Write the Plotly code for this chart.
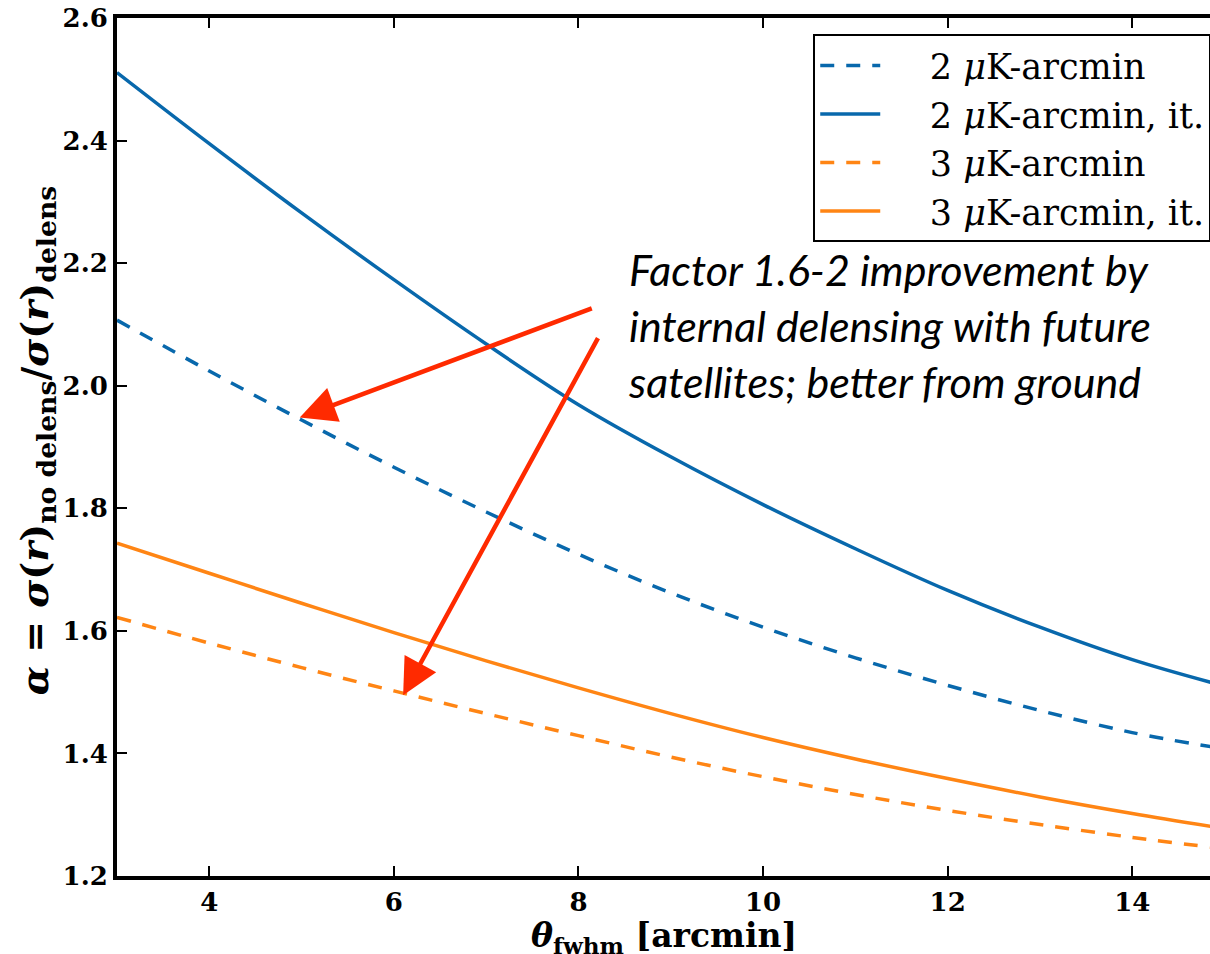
import plotly.graph_objects as go

theta = [3, 4, 5, 6, 7, 8, 9, 10, 11, 12, 13, 14, 14.85]
alpha_2uk = [2.107, 2.024, 1.944, 1.867, 1.794, 1.725, 1.662, 1.606, 1.556, 1.511, 1.470, 1.434, 1.411]
alpha_2uk_it = [2.511, 2.395, 2.282, 2.173, 2.068, 1.969, 1.884, 1.806, 1.734, 1.666, 1.606, 1.553, 1.516]
alpha_3uk = [1.622, 1.580, 1.540, 1.502, 1.465, 1.429, 1.394, 1.362, 1.333, 1.307, 1.284, 1.263, 1.247]
alpha_3uk_it = [1.743, 1.694, 1.645, 1.597, 1.551, 1.507, 1.465, 1.426, 1.391, 1.359, 1.329, 1.302, 1.281]

series_names = ["2 <i>μ</i>K-arcmin", "2 <i>μ</i>K-arcmin, it.", "3 <i>μ</i>K-arcmin", "3 <i>μ</i>K-arcmin, it."]
x_ticks = [4, 6, 8, 10, 12, 14]
y_ticks = [1.2, 1.4, 1.6, 1.8, 2.0, 2.2, 2.4, 2.6]

BLUE = "#0868ac"
ORANGE = "#ff8514"
RED = "#ff2a00"
PAD = "\u00a0\u00a0\u00a0\u00a0"

fig = go.Figure()
series = [
    (alpha_2uk, BLUE, "14px,12px"),
    (alpha_2uk_it, BLUE, "solid"),
    (alpha_3uk, ORANGE, "14px,12px"),
    (alpha_3uk_it, ORANGE, "solid"),
]
for (vals, col, dash), name in zip(series, series_names):
    fig.add_trace(go.Scatter(x=theta, y=vals, mode="lines", name=PAD + name,
                             line=dict(color=col, width=3.5, dash=dash, shape="spline")))

tick_font = dict(family="DejaVu Serif", size=26, color="black", weight="bold")

fig.update_layout(
    width=1210, height=954,
    margin=dict(l=117, r=0, t=18, b=78, autoexpand=False),
    plot_bgcolor="white", paper_bgcolor="white",
    showlegend=True,
    legend=dict(x=0.637, y=0.981, xanchor="left", yanchor="top",
                bgcolor="white", bordercolor="black", borderwidth=2,
                font=dict(family="DejaVu Serif", size=35, color="black"),
                itemwidth=60, tracegroupgap=0),
    xaxis=dict(range=[3, 14.842], tickvals=x_ticks, ticktext=[str(v) for v in x_ticks],
               showgrid=False, zeroline=False, showline=True, linecolor="black", linewidth=4,
               mirror="ticks", ticks="inside", ticklen=10, tickwidth=1.5, tickcolor="black",
               tickfont=tick_font, automargin=False),
    yaxis=dict(range=[1.2, 2.6], tickvals=y_ticks, ticktext=[f"{v:.1f}" for v in y_ticks],
               showgrid=False, zeroline=False, showline=True, linecolor="black", linewidth=4,
               ticks="inside", ticklen=10, tickwidth=1.5, tickcolor="black",
               tickfont=tick_font, automargin=False),
)

# axis titles as annotations
fig.add_annotation(x=0.5, y=-0.072, xref="paper", yref="paper", xanchor="center", yanchor="middle",
                   showarrow=False,
                   text="<b><i>θ</i><sub>fwhm</sub> [arcmin]</b>",
                   font=dict(family="DejaVu Serif", size=33, color="black"))
fig.add_annotation(x=-0.073, y=0.508, xref="paper", yref="paper", xanchor="center", yanchor="middle",
                   showarrow=False, textangle=-90,
                   text="<b><i>α</i> = <i>σ</i>(<i>r</i>)<sub>no delens</sub>/<i>σ</i>(<i>r</i>)<sub>delens</sub></b>",
                   font=dict(family="DejaVu Serif", size=38, color="black"))

# arrows
arrow_specs = [
    (4.98, 1.948, 8.16, 2.127),
    (6.10, 1.495, 8.22, 2.080),
]
for hx, hy, tx, ty in arrow_specs:
    fig.add_annotation(x=hx, y=hy, ax=tx, ay=ty, xref="x", yref="y", axref="x", ayref="y",
                       showarrow=True, arrowhead=2, arrowsize=1.6, arrowwidth=4.5,
                       arrowcolor=RED, text="", standoff=0)

fig.add_annotation(x=8.52, y=2.234, xref="x", yref="y", xanchor="left", yanchor="top",
                   align="left", showarrow=False,
                   text="Factor 1.6-2 improvement by<br>internal delensing with future<br>satellites; better from ground",
                   font=dict(family="Lato", size=43, color="black", style="italic"))

fig.write_html("out.html", config={"displayModeBar": False},
               post_script="document.body.style.margin='0';document.body.style.overflow='hidden';")
